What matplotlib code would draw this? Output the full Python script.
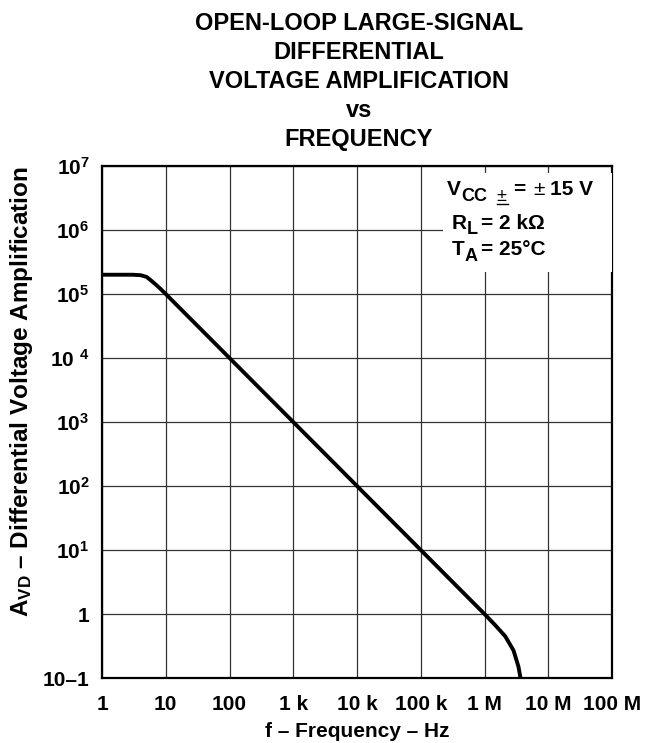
import matplotlib
matplotlib.use("Agg")
import matplotlib.pyplot as plt
from matplotlib.patches import Rectangle

# Bold Arial-like text everywhere, also inside mathtext
plt.rcParams['font.family'] = ['Liberation Sans', 'DejaVu Sans']
plt.rcParams['font.weight'] = 'bold'
plt.rcParams['mathtext.fontset'] = 'custom'
plt.rcParams['mathtext.rm'] = 'Liberation Sans:bold'
plt.rcParams['mathtext.it'] = 'Liberation Sans:bold'
plt.rcParams['mathtext.bf'] = 'Liberation Sans:bold'
plt.rcParams['mathtext.default'] = 'rm'

# Curve: frequency (Hz) and open-loop gain
freq = [1, 3, 4, 5, 6, 7, 8, 10, 100, 1e3, 1e4, 1e5, 1e6,
        1.47e6, 2.11e6, 2.85e6, 3.41e6, 3.67e6]
gain = [2e5, 2e5, 1.97e5, 1.85e5, 1.6e5, 1.4e5, 1.24e5, 1e5, 1e4, 1e3, 1e2, 10, 1,
        0.67, 0.45, 0.27, 0.15, 0.1]

x_ticks = [1, 10, 100, 1e3, 1e4, 1e5, 1e6, 1e7, 1e8]
x_labels = ['1', '10', '100', '1 k', '10 k', '100 k', '1 M', '10 M', '100 M']
y_ticks = [0.1, 1, 10, 100, 1e3, 1e4, 1e5, 1e6, 1e7]
y_labels = ['10\u20131', '1', r'$10^{1}$', r'$10^{2}$', r'$10^{3}$', r'$10\ ^{4}$',
            r'$10^{5}$', r'$10^{6}$', r'$10^{7}$']

title = 'OPEN-LOOP LARGE-SIGNAL\nDIFFERENTIAL\nVOLTAGE AMPLIFICATION\nvs\nFREQUENCY'

W, H = 646, 743
fig = plt.figure(figsize=(W / 100, H / 100), dpi=100)
ax = fig.add_axes([102/W, 65/H, 510/W, 512/H])

ax.plot(freq, gain, color='black', lw=2.8, solid_capstyle='butt')
ax.set_xscale('log')
ax.set_yscale('log')
ax.set_xlim(1, 1e8)
ax.set_ylim(0.1, 1e7)

ax.set_xticks(x_ticks)
ax.set_xticklabels(x_labels)
ax.set_yticks(y_ticks)
ax.set_yticklabels(y_labels)
ax.minorticks_off()
ax.tick_params(axis='both', length=0, labelsize=15)
ax.tick_params(axis='x', pad=12)
ax.tick_params(axis='y', pad=9)
ax.grid(True, color='#333333', lw=0.9)
ax.set_axisbelow(True)
for s in ax.spines.values():
    s.set_linewidth(1.6)

ax.set_xlabel('f \u2013 Frequency \u2013 Hz', fontsize=15, fontweight='bold', va='baseline')
ax.xaxis.set_label_coords(0.5, -0.115)
ax.set_ylabel(r'A$_{VD}$ ' + '\u2013 Differential Voltage Amplification',
              fontsize=17.5, fontweight='bold', va='center')
ax.yaxis.set_label_coords(-0.157, 0.559)

# conditions box (white, hides the grid)
ax.add_patch(Rectangle((0.669, 0.793), 0.331, 0.193, transform=ax.transAxes,
                       facecolor='white', edgecolor='none', zorder=3))


def put(x, y, s, size=15, **kw):
    # text placed by its baseline, in picture pixels from top-left
    fig.text(x / W, 1 - y / H, s, fontsize=size, va='baseline', ha='left', zorder=5, **kw)


put(447, 195, 'V')
put(461, 201, 'CC', size=13)
put(496, 201, '\u00b1', size=13, fontweight='normal')
fig.add_artist(plt.Line2D([497/W, 508/W], [1 - 204/H, 1 - 204/H], color='black', lw=1))
put(513, 195, '=')
put(533, 195, '\u00b1', fontweight='normal')
put(550, 195, '15 V')

put(452, 229, 'R')
put(467, 234, 'L', size=13)
put(481, 229, '= 2 k\u03a9')

put(452, 255, 'T')
put(465, 261, 'A', size=13)
put(481, 255, '= 25\u00b0C')

fig.text(359/W, 1 - 12/H, title, ha='center', va='top', fontsize=17,
         fontweight='bold', linespacing=1.33)

fig.savefig('out.png', dpi=100)
